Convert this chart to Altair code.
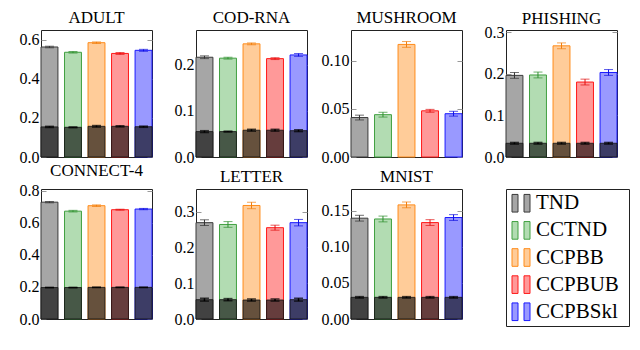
import altair as alt
import pandas as pd

# ---- data ----
methods = ["TND", "CCTND", "CCPBB", "CCPBUB", "CCPBSkl"]
datasets = ["ADULT", "COD-RNA", "MUSHROOM", "PHISHING", "CONNECT-4", "LETTER", "MNIST"]

adult_total = [0.563, 0.536, 0.585, 0.530, 0.546]
adult_total_err = [0.004, 0.004, 0.004, 0.005, 0.005]
adult_lower = [0.154, 0.152, 0.157, 0.157, 0.155]
adult_lower_err = [0.003, 0.002, 0.004, 0.003, 0.003]

codrna_total = [0.216, 0.214, 0.245, 0.213, 0.221]
codrna_total_err = [0.003, 0.002, 0.002, 0.002, 0.003]
codrna_lower = [0.055, 0.055, 0.058, 0.058, 0.057]
codrna_lower_err = [0.002, 0.001, 0.002, 0.002, 0.002]

mushroom_total = [0.041, 0.044, 0.117, 0.048, 0.045]
mushroom_total_err = [0.0025, 0.0025, 0.003, 0.0015, 0.0025]
mushroom_lower = [0.0, 0.0, 0.0, 0.0, 0.0]
mushroom_lower_err = [0.0, 0.0, 0.0, 0.0, 0.0]

phishing_total = [0.196, 0.197, 0.267, 0.180, 0.203]
phishing_total_err = [0.007, 0.007, 0.007, 0.007, 0.007]
phishing_lower = [0.033, 0.033, 0.033, 0.033, 0.033]
phishing_lower_err = [0.002, 0.002, 0.002, 0.002, 0.002]

connect4_total = [0.728, 0.672, 0.706, 0.681, 0.685]
connect4_total_err = [0.004, 0.005, 0.005, 0.003, 0.004]
connect4_lower = [0.196, 0.196, 0.197, 0.197, 0.197]
connect4_lower_err = [0.001, 0.001, 0.001, 0.001, 0.001]

letter_total = [0.269, 0.264, 0.317, 0.255, 0.269]
letter_total_err = [0.008, 0.008, 0.009, 0.007, 0.009]
letter_lower = [0.054, 0.054, 0.053, 0.053, 0.054]
letter_lower_err = [0.004, 0.003, 0.003, 0.003, 0.004]

mnist_total = [0.1396, 0.1385, 0.158, 0.1335, 0.1405]
mnist_total_err = [0.004, 0.004, 0.004, 0.004, 0.004]
mnist_lower = [0.030, 0.030, 0.030, 0.030, 0.030]
mnist_lower_err = [0.001, 0.001, 0.001, 0.001, 0.001]

y_max = [0.65, 0.275, 0.132, 0.305, 0.81, 0.363, 0.18]
y_ticks = [
    [0.0, 0.2, 0.4, 0.6],
    [0.0, 0.1, 0.2],
    [0.0, 0.05, 0.10],
    [0.0, 0.1, 0.2, 0.3],
    [0.0, 0.2, 0.4, 0.6, 0.8],
    [0.0, 0.1, 0.2, 0.3],
    [0.0, 0.05, 0.10, 0.15],
]
y_formats = [".1f", ".1f", ".2f", ".1f", ".1f", ".1f", ".2f"]

# ---- styles ----
upper_fill = ["#a6a6a6", "#b2dcb2", "#ffcc99", "#ff9999", "#9999ff"]
upper_stroke = ["#3a3a3a", "#40a040", "#ff8c1a", "#ff1a1a", "#1a1aff"]
err_color = ["#303030", "#2f8f2f", "#f07f10", "#e01010", "#1010e0"]
lower_fill = ["#424242", "#475847", "#66513d", "#663d3d", "#3d3d66"]
title_offsets = [3, 3, 3, -4, 3, 3, 3]
panel_heights = [127, 127, 127, 127, 130, 130, 130]

FONT = "Liberation Serif, DejaVu Serif, Times New Roman, serif"

all_data = [
    (adult_total, adult_total_err, adult_lower, adult_lower_err),
    (codrna_total, codrna_total_err, codrna_lower, codrna_lower_err),
    (mushroom_total, mushroom_total_err, mushroom_lower, mushroom_lower_err),
    (phishing_total, phishing_total_err, phishing_lower, phishing_lower_err),
    (connect4_total, connect4_total_err, connect4_lower, connect4_lower_err),
    (letter_total, letter_total_err, letter_lower, letter_lower_err),
    (mnist_total, mnist_total_err, mnist_lower, mnist_lower_err),
]


def panel(i):
    total, terr, lower, lerr = all_data[i]
    df = pd.DataFrame({
        "method": methods,
        "total": total,
        "lower": lower,
        "t_lo": [t - e for t, e in zip(total, terr)],
        "t_hi": [t + e for t, e in zip(total, terr)],
        "l_lo": [t - e for t, e in zip(lower, lerr)],
        "l_hi": [t + e for t, e in zip(lower, lerr)],
        "ufill": upper_fill,
        "ustroke": upper_stroke,
        "ecol": err_color,
        "lfill": lower_fill,
    })
    ysc = alt.Scale(domain=[0, y_max[i]], nice=False, zero=True)
    x = alt.X("method:N", sort=methods,
              scale=alt.Scale(domain=methods, paddingInner=0.28, paddingOuter=0),
              axis=None)
    left_axis = alt.Axis(values=y_ticks[i], format=y_formats[i], orient="left",
                         title=None, offset=-5, tickSize=5, domain=False, grid=False,
                         labelPadding=2, labelFlush=False, labelOverlap=False,
                         labelFont=FONT, labelFontSize=16, labelColor="black")
    right_axis = alt.Axis(values=y_ticks[i], orient="right", title=None, offset=-5,
                          tickSize=5, domain=False, grid=False, labels=False)
    base = alt.Chart(df)
    upper = base.mark_bar(strokeWidth=1).encode(
        x=x,
        y=alt.Y("total:Q", scale=ysc, axis=left_axis),
        fill=alt.Fill("ufill:N", scale=None),
        stroke=alt.Stroke("ustroke:N", scale=None),
    )
    low = base.transform_filter("datum.lower > 0").mark_bar(
        stroke="#111111", strokeWidth=0.8).encode(
        x=x,
        y=alt.Y("lower:Q", scale=ysc, axis=None),
        fill=alt.Fill("lfill:N", scale=None),
    )
    erule = base.mark_rule(strokeWidth=1).encode(
        x=x,
        y=alt.Y("t_lo:Q", scale=ysc, axis=right_axis),
        y2="t_hi:Q",
        color=alt.Color("ecol:N", scale=None),
    )
    ecap1 = base.mark_tick(size=9, thickness=1).encode(
        x=x, y=alt.Y("t_lo:Q", scale=ysc, axis=None),
        color=alt.Color("ecol:N", scale=None))
    ecap2 = base.mark_tick(size=9, thickness=1).encode(
        x=x, y=alt.Y("t_hi:Q", scale=ysc, axis=None),
        color=alt.Color("ecol:N", scale=None))
    lbase = base.transform_filter("datum.lower > 0")
    lrule = lbase.mark_rule(strokeWidth=1.5, color="black").encode(
        x=x, y=alt.Y("l_lo:Q", scale=ysc, axis=None), y2="l_hi:Q")
    lcap1 = lbase.mark_tick(size=9, thickness=1.5, color="black").encode(
        x=x, y=alt.Y("l_lo:Q", scale=ysc, axis=None))
    lcap2 = lbase.mark_tick(size=9, thickness=1.5, color="black").encode(
        x=x, y=alt.Y("l_hi:Q", scale=ysc, axis=None))
    return alt.layer(upper, low, erule, ecap1, ecap2, lrule, lcap1, lcap2).resolve_axis(
        y="independent").properties(
        width=111, height=panel_heights[i],
        title=alt.TitleParams(datasets[i], font=FONT, fontSize=17, fontWeight="normal",
                              color="black", offset=title_offsets[i]))


panels = [panel(i) for i in range(len(datasets))]

leg_df = pd.DataFrame({"method": methods, "ufill": upper_fill, "ustroke": upper_stroke})
ly = alt.Y("method:N", sort=methods,
           scale=alt.Scale(domain=methods, paddingInner=0.35, paddingOuter=0.2),
           axis=None)
lb = alt.Chart(leg_df)
sw1 = lb.mark_rect(strokeWidth=1).encode(
    y=ly, x=alt.value(6), x2=alt.value(12),
    fill=alt.Fill("ufill:N", scale=None), stroke=alt.Stroke("ustroke:N", scale=None))
sw2 = lb.mark_rect(strokeWidth=1).encode(
    y=ly, x=alt.value(18), x2=alt.value(24),
    fill=alt.Fill("ufill:N", scale=None), stroke=alt.Stroke("ustroke:N", scale=None))
txt = lb.mark_text(align="left", baseline="middle", font=FONT, fontSize=21,
                   color="black").encode(y=ly, x=alt.value(30), text="method:N")
legend = alt.layer(sw1, sw2, txt).properties(width=123, height=137)

chart = alt.concat(*panels, legend, columns=4, spacing={"row": 32, "column": 44},
                   bounds="flush").properties(
    padding={"left": 10, "top": 0, "right": 0, "bottom": 0}
).configure_view(stroke="#222222", strokeWidth=1).configure_axis(
    tickColor="#999999", tickWidth=1, labelFont=FONT, labelFontSize=16,
    labelColor="black"
)

chart.save("out.html", embed_options={"renderer": "svg", "actions": False})
